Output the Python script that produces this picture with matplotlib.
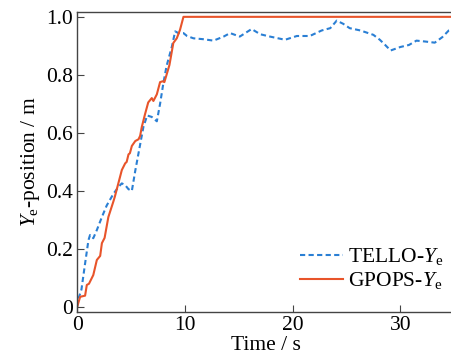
import matplotlib
matplotlib.use("Agg")
import matplotlib.pyplot as plt
from matplotlib.ticker import FuncFormatter

# GPOPS reference trajectory
t_gpops = [0, 0.28, 0.74, 0.9, 1.1, 1.5, 1.83, 2.14, 2.3, 2.55, 2.9, 3.37, 3.5,
           3.84, 4.15, 4.46, 4.6, 4.77, 4.9, 5.08, 5.4, 5.7, 5.85, 6.0, 6.3, 6.6,
           6.93, 7.08, 7.4, 7.7, 7.95, 8.1, 8.3, 8.57, 8.77, 8.93, 9.25, 9.55,
           9.87, 20, 36]
y_gpops = [0, 0.035, 0.039, 0.076, 0.08, 0.11, 0.162, 0.176, 0.22, 0.238, 0.31,
           0.364, 0.38, 0.428, 0.472, 0.495, 0.5, 0.526, 0.53, 0.555, 0.572,
           0.578, 0.59, 0.62, 0.664, 0.705, 0.72, 0.71, 0.733, 0.775, 0.778,
           0.775, 0.8, 0.834, 0.876, 0.91, 0.926, 0.955, 1.0, 1.0, 1.0]

# TELLO measured trajectory
t_tello = [0, 0.05, 0.4, 0.74, 1.05, 1.2, 1.5, 1.83, 2.3, 2.75, 3.37, 3.84, 4.15,
           4.46, 4.77, 5.08, 5.4, 5.85, 6.15, 6.5, 6.93, 7.4, 7.7, 8.0, 8.3, 8.8,
           9.1, 9.4, 9.87, 10.2, 10.8, 11.7, 12.66, 13.6, 14.2, 15.1, 16.2, 17.0,
           17.9, 19.3, 20.4, 21.6, 22.7, 23.5, 24.1, 24.7, 25.3, 26.3, 27.5,
           28.1, 28.6, 29.1, 30.0, 30.8, 31.5, 32.3, 33.2, 33.9, 34.5, 36]
y_tello = [0, 0.02, 0.06, 0.15, 0.23, 0.248, 0.237, 0.265, 0.31, 0.35, 0.39,
           0.414, 0.426, 0.42, 0.406, 0.40, 0.47, 0.56, 0.62, 0.66, 0.655, 0.64,
           0.70, 0.77, 0.83, 0.898, 0.95, 0.944, 0.944, 0.934, 0.926, 0.923,
           0.918, 0.932, 0.944, 0.932, 0.958, 0.94, 0.932, 0.921, 0.934, 0.934,
           0.953, 0.961, 0.987, 0.976, 0.961, 0.953, 0.938, 0.921, 0.903,
           0.884, 0.896, 0.903, 0.918, 0.915, 0.911, 0.93, 0.953, 0.965]

plt.rcParams['font.family'] = 'Liberation Serif'
plt.rcParams['mathtext.fontset'] = 'custom'
plt.rcParams['mathtext.rm'] = 'Liberation Serif'
plt.rcParams['mathtext.it'] = 'Liberation Serif:italic'

fs = 15.5
fig = plt.figure(figsize=(4.51, 3.61), dpi=100)
ax = fig.add_axes([0.171, 0.136, 0.836, 0.831])

ax.plot(t_tello, y_tello, color='#2a7fd4', lw=1.5, dashes=(2.5, 1.6),
        label=r'TELLO-$Y_{\mathrm{e}}$')
ax.plot(t_gpops, y_gpops, '-', color='#e8542a', lw=1.5,
        label=r'GPOPS-$Y_{\mathrm{e}}$')

ax.set_xlim(0, 35)
ax.set_ylim(-0.017, 1.017)
ax.set_xticks([0, 10, 20, 30])
ax.set_yticks([0, 0.2, 0.4, 0.6, 0.8, 1.0])
ax.yaxis.set_major_formatter(FuncFormatter(lambda v, p: '0' if v == 0 else f'{v:.1f}'))
ax.tick_params(direction='in', length=5, labelsize=fs, color='#444444', pad=3)
for s in ax.spines.values():
    s.set_color('#444444')
    s.set_linewidth(1.0)
ax.spines['right'].set_visible(False)

ax.set_xlabel('Time / s', fontsize=fs, labelpad=1)
ax.set_ylabel(r'$Y_{\mathrm{e}}$-position / m', fontsize=fs, labelpad=3)

ax.legend(loc='lower right', bbox_to_anchor=(0.995, 0.04), frameon=False,
          fontsize=fs, handlelength=2.0, handletextpad=0.25, labelspacing=0.15,
          borderaxespad=0)

fig.savefig('out.png', dpi=100)
